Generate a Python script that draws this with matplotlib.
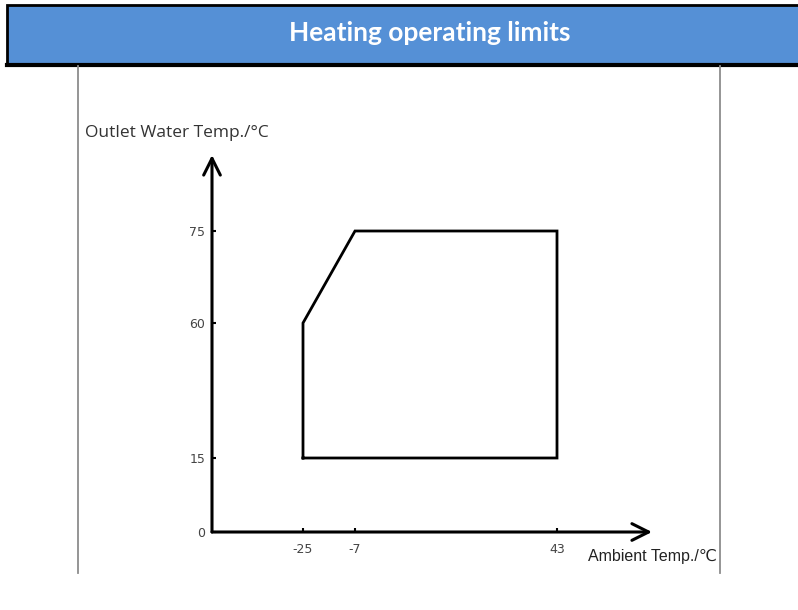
import numpy as np
import matplotlib.pyplot as plt
from matplotlib.patches import Rectangle
from matplotlib.lines import Line2D

# --- data ---
title = "Heating operating limits"
x_label = "Ambient Temp./\u2103"
y_label = "Outlet Water Temp./\u00b0C"
x_ticks = [-25, -7, 43]
y_ticks = [0, 15, 60, 75]
# operating envelope corners (ambient, outlet water)
env_x = [-25, -25, -7, 43, 43, -25]
env_y = [15, 60, 75, 75, 15, 15]

# schematic (non-linear) axis scales, value -> drawing position
x_knots = [-40, -25, -7, 43, 58]
x_knot_pos = [0, 91, 143, 345, 440]
y_knots = [0, 15, 60, 75, 90]
y_knot_pos = [0, 74, 209, 301, 377]


def make_scale(knots, pos):
    fwd = lambda v: np.interp(v, knots, pos)
    inv = lambda p: np.interp(p, pos, knots)
    return fwd, inv


W, H = 798, 610
fig = plt.figure(figsize=(W / 100, H / 100), dpi=100)

# header banner
fig.patches.append(Rectangle((7 / W, 1 - 64 / H), 800 / W, 59 / H, transform=fig.transFigure,
                             facecolor="#5590d6", edgecolor="black", lw=2, clip_on=False))
fig.lines.append(Line2D([7 / W, 1], [1 - 64.5 / H] * 2, transform=fig.transFigure,
                        color="black", lw=3))
fig.text(430 / W, 1 - 33 / H, title, ha="center", va="center", color="white",
         fontsize=19, fontweight="bold", family="Lato")

# grey frame lines
for gx in [78, 720]:
    fig.lines.append(Line2D([gx / W] * 2, [1 - 66 / H, 1 - 573 / H], transform=fig.transFigure,
                            color="#8c8c8c", lw=1.3))

# axes: origin at (212, 532), arrow ends at x=652 and y=155
ax = fig.add_axes([212 / W, 1 - 532 / H, 440 / W, 377 / H])
ax.set_xscale("function", functions=make_scale(x_knots, x_knot_pos))
ax.set_yscale("function", functions=make_scale(y_knots, y_knot_pos))
ax.set_xlim(x_knots[0], x_knots[-1])
ax.set_ylim(y_knots[0], y_knots[-1])
ax.patch.set_alpha(0)
for s in ax.spines.values():
    s.set_visible(False)

ax.plot(env_x, env_y, color="black", lw=2, solid_joinstyle="miter", clip_on=False)

ax.annotate("", xy=(x_knots[-1], 0), xytext=(x_knots[0], 0),
            arrowprops=dict(arrowstyle="->", lw=2.2, color="black", mutation_scale=30,
                            shrinkA=0, shrinkB=0), annotation_clip=False)
ax.annotate("", xy=(x_knots[0], y_knots[-1]), xytext=(x_knots[0], 0),
            arrowprops=dict(arrowstyle="->", lw=2.2, color="black", mutation_scale=30,
                            shrinkA=0, shrinkB=0), annotation_clip=False)

ax.set_xticks(x_ticks)
ax.set_xticklabels([str(v) for v in x_ticks])
ax.set_yticks(y_ticks)
ax.set_yticklabels([str(v) for v in y_ticks])
ax.xaxis.set_minor_locator(plt.NullLocator())
ax.yaxis.set_minor_locator(plt.NullLocator())
ax.tick_params(axis="both", direction="in", length=3, width=1.5, color="black",
               labelsize=9, labelcolor="#444444")
ax.tick_params(axis="x", pad=8)
ax.tick_params(axis="y", pad=5)

fig.text(85 / W, 1 - 133 / H, y_label, ha="left", va="center", fontsize=12.5,
         color="#333333", family=["Open Sans", "DejaVu Sans"])
fig.text(717 / W, 1 - 557 / H, x_label, ha="right", va="center", fontsize=11.5,
         color="#222222", family=["Liberation Sans", "DejaVu Sans"])

fig.savefig("out.png", dpi=100)
